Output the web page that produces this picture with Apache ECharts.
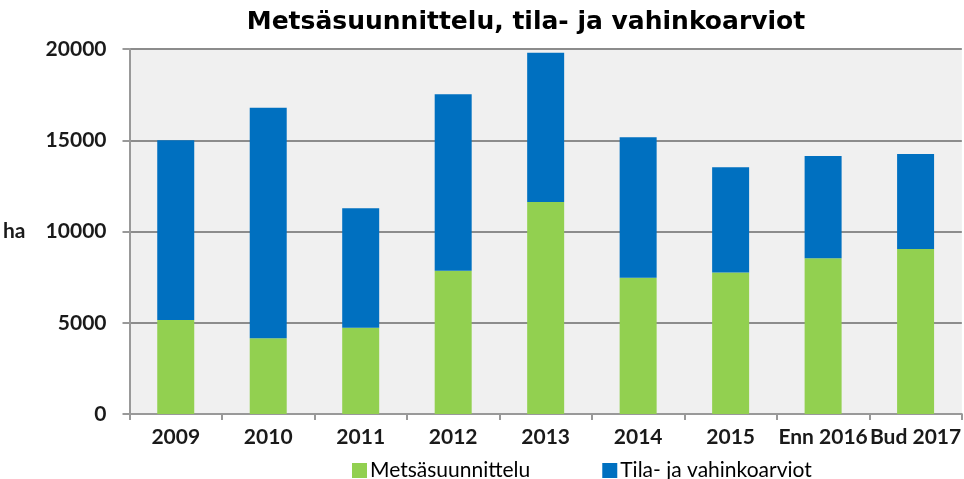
<!DOCTYPE html>
<html>
<head>
<meta charset="utf-8">
<script src="https://cdn.jsdelivr.net/npm/echarts@6/dist/echarts.min.js"></script>
<style>
  html, body { margin: 0; padding: 0; background: #fff; }
  #chart { width: 964px; height: 479px; }
</style>
</head>
<body>
<div id="chart"></div>
<script>
// Values (hectares)
const categories = ['2009', '2010', '2011', '2012', '2013', '2014', '2015', 'Enn 2016', 'Bud 2017'];
const metsasuunnittelu = [5150, 4150, 4730, 7850, 11620, 7470, 7760, 8530, 9040];
const tilaVahinko = [9850, 12630, 6540, 9670, 8180, 7690, 5760, 5610, 5210];
const yTicks = [0, 5000, 10000, 15000, 20000];

const TITLE_FONT = 'DejaVu Sans';
const FONT = 'Lato';
const GREEN = '#92d050';
const BLUE = '#0070c0';
const GRID_GRAY = '#8c8c8c';

const chart = echarts.init(document.getElementById('chart'));

chart.setOption({
  animation: false,
  backgroundColor: '#fff',
  title: {
    text: 'Metsäsuunnittelu, tila- ja vahinkoarviot',
    left: 521,
    textAlign: 'center',
    top: 5,
    textStyle: { fontFamily: TITLE_FONT, fontSize: 25, fontWeight: 'bold', color: '#000' }
  },
  legend: {
    top: 455,
    left: 347,
    itemWidth: 15,
    itemHeight: 15,
    itemGap: 72,
    icon: 'rect',
    textStyle: { fontFamily: FONT, fontSize: 21, color: '#000', padding: [0, 0, 0, -2] },
    data: ['Metsäsuunnittelu', 'Tila- ja vahinkoarviot']
  },
  grid: {
    left: 127,
    right: 1,
    top: 49,
    bottom: 65,
    show: true,
    backgroundColor: '#f0f0f0',
    borderWidth: 0
  },
  xAxis: {
    type: 'category',
    data: categories,
    axisLine: { lineStyle: { color: '#999', width: 2 } },
    axisTick: { show: true, length: 6, lineStyle: { color: '#999', width: 2 } },
    axisLabel: { fontFamily: FONT, fontSize: 21, fontWeight: 'bold', color: '#1a1a1a', margin: 13, interval: 0 }
  },
  yAxis: {
    type: 'value',
    min: yTicks[0],
    max: yTicks[yTicks.length - 1],
    interval: 5000,
    name: 'ha',
    nameLocation: 'middle',
    nameRotate: 0,
    nameGap: 104,
    nameTextStyle: { fontFamily: FONT, fontSize: 21, fontWeight: 'bold', color: '#1a1a1a' },
    axisLine: { show: true, lineStyle: { color: '#999', width: 2 } },
    axisTick: { show: true, length: 7, lineStyle: { color: '#999', width: 2 } },
    axisLabel: {
      fontFamily: FONT, fontSize: 21, fontWeight: 'bold', color: '#1a1a1a', margin: 23,
      formatter: v => String(v)
    },
    splitLine: { lineStyle: { color: GRID_GRAY, width: 2 } }
  },
  series: [
    {
      name: 'Metsäsuunnittelu',
      type: 'bar',
      stack: 'total',
      barWidth: '40%',
      itemStyle: { color: GREEN },
      data: metsasuunnittelu
    },
    {
      name: 'Tila- ja vahinkoarviot',
      type: 'bar',
      stack: 'total',
      barWidth: '40%',
      itemStyle: { color: BLUE },
      data: tilaVahinko
    }
  ]
});
</script>
</body>
</html>
